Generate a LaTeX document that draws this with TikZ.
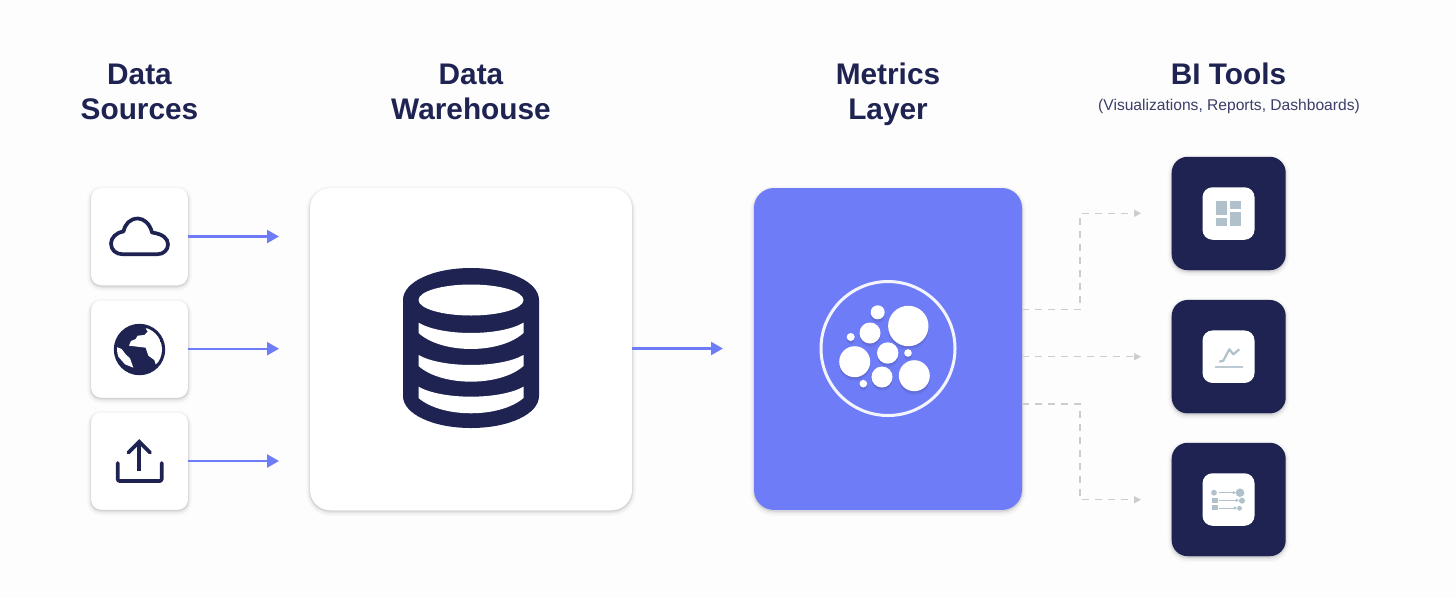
\documentclass[tikz,border=0pt]{standalone}
\usepackage{fontspec}
\setmainfont{Liberation Sans}
\usetikzlibrary{arrows.meta}
\definecolor{navy}{HTML}{1E2352}
\definecolor{blue}{HTML}{6E7DF7}
\definecolor{dash}{HTML}{CDCDCD}
\definecolor{icong}{HTML}{B0C1CC}
\definecolor{subt}{HTML}{3B3E68}
\definecolor{paper}{HTML}{FDFDFD}
\tikzset{
  x=1pt,y=-1pt,
  softshadow/.style={
    preaction={draw=black,draw opacity=.018,line width=8pt,transform canvas={yshift=-2pt}},
    preaction={draw=black,draw opacity=.03,line width=5pt,transform canvas={yshift=-2pt}},
    preaction={draw=black,draw opacity=.05,line width=2.5pt,transform canvas={yshift=-1.5pt}},
    preaction={draw=black,draw opacity=.07,line width=1pt,transform canvas={yshift=-1pt}}},
  card/.style={softshadow,fill=white,rounded corners=#1,inner sep=0pt,outer sep=0pt},
  card/.default=10pt,
  titlelabel/.style={font=\fontsize{29.8}{35}\selectfont\bfseries,text=navy,align=center,inner sep=0pt,anchor=north},
  subtitlelabel/.style={font=\fontsize{15.6}{18}\selectfont,text=subt,inner sep=0pt},
  flowarrow/.style={draw=blue,line width=2.3pt,-{Triangle[length=12pt,width=13pt]}},
  dasharrow/.style={draw=dash,line width=1.4pt,dash pattern=on 7pt off 6pt,-{Triangle[length=7pt,width=7pt]}},
  iconline/.style={draw=navy,line width=3.7pt,line cap=round,line join=round},
  bubble/.style={fill=white,circle,inner sep=0pt,outer sep=0pt,
    preaction={fill=black,fill opacity=.07,transform canvas={yshift=-3.5pt}},
    preaction={fill=black,fill opacity=.08,transform canvas={yshift=-1.5pt}}},
  greyicon/.style={fill=icong,draw=none},
}
\begin{document}
\begin{tikzpicture}
\useasboundingbox (0,0) rectangle (1456,598);
\fill[paper] (0,0) rectangle (1456,598);
% titles
\node[titlelabel] (t1) at (139.5,64) {Data\\Sources};
\node[titlelabel] (t2) at (471,64) {Data\\Warehouse};
\node[titlelabel] (t3) at (888,63) {Metrics\\Layer};
\node[titlelabel] (t4) at (1228.5,63) {BI Tools};
\node[subtitlelabel] (t5) at (1229,106) {(Visualizations, Reports, Dashboards)};
% source cards
\node[card,minimum width=97pt,minimum height=97pt] (s1) at (139.5,236.5) {};
\node[card,minimum width=97pt,minimum height=97pt] (s2) at (139.5,349) {};
\node[card,minimum width=97pt,minimum height=97pt] (s3) at (139.5,461) {};
% warehouse and metrics
\node[card=20pt,minimum width=322pt,minimum height=322pt] (dw) at (471,349) {};
\node[card=20pt,fill=blue,minimum width=268pt,minimum height=322pt] (ml) at (888,349) {};
% BI cards
\foreach \n/\y in {b1/213.5,b2/356.7,b3/499.5}{
  \node[card=16pt,fill=navy,minimum width=114pt,minimum height=113.5pt] (\n) at (1228.7,\y) {};
  \node[fill=white,rounded corners=10pt,minimum width=52pt,minimum height=52.5pt,inner sep=0pt] (\n i) at (1228.5,\y) {};
}
% solid connectors
\coordinate (a1) at (279,236.5);
\coordinate (a2) at (279,348.7);
\coordinate (a3) at (279,461);
\draw[flowarrow] (s1.east) -- (a1);
\draw[flowarrow] (s2.east |- a2) -- (a2);
\draw[flowarrow] (s3.east) -- (a3);
\coordinate (a4) at (723,348.5);
\draw[flowarrow] (dw.east |- a4) -- (a4);
% dashed connectors
\coordinate (d1) at (1141,213.3);
\coordinate (d2) at (1141,356.7);
\coordinate (d3) at (1141,499.7);
\coordinate (m1) at (1022,309.5);
\coordinate (m3) at (1022,404);
\draw[dasharrow] (m1) -- (1080,309.5) -- (1080,213.3) -- (d1);
\draw[dasharrow] (ml.east |- d2) -- (d2);
\draw[dasharrow] (m3) -- (1080,404) -- (1080,499.7) -- (d3);
% cloud icon
\draw[iconline] (123,254.3) -- (157,254.3) .. controls (164,254.3) and (168,249.5) .. (168,244.5)
  .. controls (168,238.5) and (163,234) .. (152,232.5)
  .. controls (150,224) and (144,218.5) .. (138,218.5)
  .. controls (130,218.5) and (125,224) .. (123.5,231.5)
  .. controls (116,232.5) and (111,238) .. (111,243.5)
  .. controls (111,250) and (116,254.3) .. (123,254.3) -- cycle;
% globe icon
\fill[navy] (139.5,349.5) circle (25.7);
\begin{scope}
  \clip (139.5,349.5) circle (22.5);
  \begin{scope}[shift={(105,315)},x=.3333pt,y=-.3333pt]
    \fill[white] (122,40) -- (128,50) -- (118,60) -- (98,62) -- (92,72) -- (78,78) -- (72,92) -- (122,98)
      -- (130,122) -- (148,135) -- (152,148) -- (170,130) -- (175,100) -- (160,60) -- (140,40) -- cycle;
    \fill[white] (32,95) -- (50,102) -- (62,118) -- (75,130) -- (85,158) -- (60,148) -- (40,125) -- cycle;
  \end{scope}
\end{scope}
% upload icon
\draw[iconline,rounded corners=2pt] (117.7,463) -- (117.7,481) -- (161.7,481) -- (161.7,463);
\draw[iconline,line cap=butt] (139.3,471) -- (139.3,443);
\draw[iconline,line join=miter] (128.5,452.5) -- (139.3,441.7) -- (150.1,452.5);
% database icon
\fill[navy] (403,300) .. controls (403,282) and (433,268) .. (471,268) .. controls (509,268) and (539,282) .. (539,300)
  -- (539,396) .. controls (539,414) and (509,428) .. (471,428) .. controls (433,428) and (403,414) .. (403,396) -- cycle;
\fill[white] (471,300) ellipse (52.5 and 15.5);
\foreach \yt/\ct/\yb/\cb in {322.7/333/333/349,355/365/366/381.7,386.7/396.7/398/413.3}{
  \fill[white] (418.5,\yt)
    .. controls (442,{\yt+1.33*(\ct-\yt)}) and (500,{\yt+1.33*(\ct-\yt)}) .. (523.5,\yt)
    -- (523.5,\yb)
    .. controls (500,{\yb+1.33*(\cb-\yb)}) and (442,{\yb+1.33*(\cb-\yb)}) .. (418.5,\yb) -- cycle;
}
% metrics icon
\draw[white,line width=3pt,draw opacity=.92] (888,348.5) circle (67);
\foreach \nm/\x/\y/\r in {c1/908.3/326/20.2,c2/877.7/312.3/7,c3/870/333/10.5,c4/850.7/337/4,c5/854.7/361.7/15.5,c6/887.7/353/10.7,c7/908/353/3.8,c8/882/377/10.5,c9/914.3/375.7/15.5,c10/863.3/383.7/3.8}{
  \pgfmathsetmacro{\dm}{2*\r}
  \node[bubble,minimum size=\dm pt] (\nm) at (\x,\y) {};
}
% BI glyph 1
\fill[greyicon] (1216,201) rectangle (1226.7,215);
\fill[greyicon] (1230,201) rectangle (1241,209);
\fill[greyicon] (1216,217.7) rectangle (1226.7,225.7);
\fill[greyicon] (1230,212.3) rectangle (1241,225.7);
% BI glyph 2
\draw[icong!85!white,line width=1.8pt] (1215,366.7) -- (1242.7,366.7);
\draw[icong,line width=2.2pt,line join=round] (1219.3,361.7) -- (1223.3,360.7) -- (1229.3,349.3) -- (1233.3,354.3) -- (1239.3,349.3);
% BI glyph 3
\fill[greyicon] (1214,492.7) circle (2.9);
\fill[greyicon] (1212.3,497.5) rectangle (1217.5,502.7);
\fill[greyicon] (1212.3,505.2) rectangle (1217.5,510.4);
\fill[greyicon] (1240,492.7) circle (4.3);
\fill[greyicon] (1242,500.7) circle (3);
\fill[greyicon] (1239.5,508.3) circle (2.4);
\foreach \ya/\xa/\xb in {492.7/1219/1236,500.3/1219/1239,508/1219/1237}{
  \draw[icong,line width=.8pt,-{Triangle[length=3.2pt,width=3.2pt]}] (\xa,\ya) -- (\xb,\ya);
}
\end{tikzpicture}
\end{document}
